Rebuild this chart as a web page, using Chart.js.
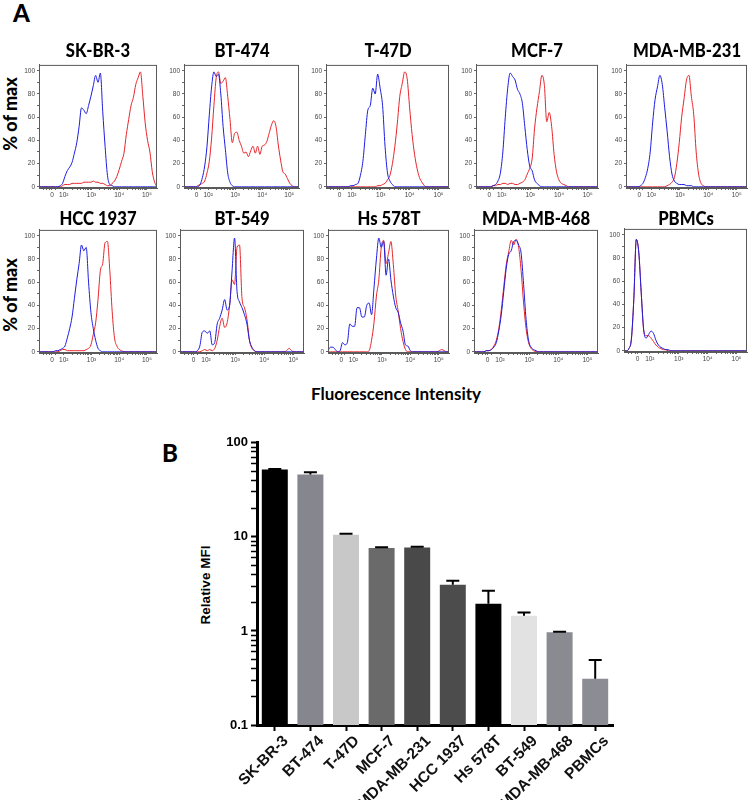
<!DOCTYPE html>
<html lang="en">
<head>
<meta charset="UTF-8">
<title>HER2 histograms and relative MFI</title>
<script src="https://cdn.jsdelivr.net/npm/chart.js@4.4.1/dist/chart.umd.min.js"></script>
<style>
  body { margin: 0; background: #fff; }
  #page { position: relative; width: 750px; height: 800px; overflow: hidden; }
  .txt { position: absolute; font-family: Lato, "Open Sans", sans-serif; font-weight: 900; color: #000; white-space: nowrap; line-height: 1; }
  .rot { transform: translate(-50%, -50%) rotate(-90deg); }
  .mid { transform: translate(-50%, -50%); }
  canvas { position: absolute; }
</style>
</head>
<body>
<div id="page">
  <div class="txt" style="left:13px;top:1px;font-size:24px;">A</div>
  <div class="txt rot" style="left:10px;top:114px;font-size:18px;">% of max</div>
  <div class="txt rot" style="left:10px;top:295px;font-size:18px;">% of max</div>
  <div class="txt mid" style="left:396px;top:393px;font-size:17px;font-weight:700;">Fluorescence Intensity</div>
  <div class="txt" style="left:162px;top:441px;font-size:24px;">B</div>
  <div class="txt rot" style="left:206px;top:585px;font-size:13.5px;font-weight:700;font-family:'Liberation Sans',Arial,sans-serif;">Relative MFI</div>
</div>

<script>
// ---- Panel A: histogram data (x = display channel 0..100, step 2) ----
const binX = [];
for (let v = 0; v <= 100; v += 2) binX.push(v);

const cellNames = ['SK-BR-3', 'BT-474', 'T-47D', 'MCF-7', 'MDA-MB-231',
                   'HCC 1937', 'BT-549', 'Hs 578T', 'MDA-MB-468', 'PBMCs'];

// blue = control, red = stained
const skbr3Blue = [0,0,0,0,0,0,0,0,0,1, 3,9,14,17,21,29,38,52,68,66,63,70,78,87,96,90,98,65,35,10,2,1, 0,0,0,0,0,0,0,0,0,0,0,0,0,0,0,0,0,0,0];
const skbr3Red  = [0,0,0,0,0,0,0,0,0,0, 1,2,2,2,3,3,3,3,3,4,4,4,4,5,4,4,3,3,2,1,1,3,5,9,15,22,29,45,58,70,77,88,94,99,78,55,40,30,13,4,0];
const bt474Blue = [0,0,0,0,0,0,0, 2,8,18,35,62,86,99,95,97,80,52,32,12,4,1, 0,0,0,0,0,0,0,0,0,0,0,0,0,0,0,0,0,0,0,0,0,0,0,0,0,0,0,0,0];
const bt474Red  = [0,0,0,0,0,0, 1,2,3,5,12,22,42,70,94,99,89,91,94,78,58,38,46,47,40,35,29,30,26,31,35,29,35,28,35,36,39,46,53,57,52,36,23,13,11,7,3,1, 0,0,0];
const t47dBlue  = [0,0,0,0,0,0,0,0,0,0, 1,1,2,3,10,22,45,66,70,85,80,97,85,70,35,12,5,2, 0,0,0,0,0,0,0,0,0,0,0,0,0,0,0,0,0,0,0,0,0,0,0];
const t47dRed   = [0,0,0,0,0,0,0,0,0,0,0,0,0,0,0,0,0,0,0,0,0, 1,1,2,3,6,10,20,35,55,78,89,99,93,68,45,28,16,8,4,1, 0,0,0,0,0,0,0,0,0,0];
const mcf7Blue  = [0,0,0,0,0,0,0, 1,2,5,12,30,60,85,98,95,92,84,80,72,52,32,18,14,6,3,1, 0,0,0,0,0,0,0,0,0,0,0,0,0,0,0,0,0,0,0,0,0,0,0,0];
const mcf7Red   = [0,0,0,0,0,0,0, 1,1,2,2,3,3,2,3,3,2,2,3,4,6,11,16,24,50,68,82,96,88,56,64,52,28,13,6,3,2,1, 0,0,0,0,0,0,0,0,0,0,0,0,0];
const mdaBlue   = [0,0,0,0,0,0, 1,3,8,16,30,55,75,86,96,88,68,48,26,11,5,3,2,2,2,1,1,1, 0,0,0,0,0,0,0,0,0,0,0,0,0,0,0,0,0,0,0,0,0,0,0];
const mdaRed    = [0,0,0,0,0,0,0,0,0,0,0,0,0,0,0,0,0, 1,2,4,8,20,38,60,76,92,96,78,62,30,11,3,1, 0,0,0,0,0,0,0,0,0,0,0,0,0,0,0,0,0,0];
const hccBlue   = [0,0,0,0,0,0,0, 1,1,2,3,5,12,20,30,46,62,76,92,87,90,60,34,20,10,3,1, 0,0,0,0,0,0,0,0,0,0,0,0,0,0,0,0,0,0,0,0,0,0,0,0];
const hccRed    = [0,0,0,0,0,0,0,0,0, 1,2,2,1,1,1,1,1,1,1,1,2,3,6,15,25,45,70,76,94,95,70,35,12,5,2,1, 0,0,0,0,0,0,0,0,0,0,0,0,0,0,0];
const bt549Blue = [0,0,0,0,0,0,0, 1,5,17,18,16,18,6,8,24,29,36,45,36,40,70,98,52,43,38,32,24,10,4,1, 0,0,0,0,0,0,0,0,0,0,0,0,0,0,0,0,0,0,0,0];
const bt549Red  = [0,0,0,0,0,0,0,0,0, 1,2,1,2,1,3,10,22,29,21,25,40,62,58,90,92,46,38,28,10,3,1, 0,0,0,0,0,0,0,0,0,0,0,0, 1,3,1, 0,0,0,0,0];
const hs578Blue = [1,4,4,2,0,1,8,6,8,24,22,22,38,38,30,30,40,42,32,55,80,98,90,95,66,80,62,48,38,34,25,18,6,5,1, 0,0,0,0,0,0,0,0,0,0,0,0,0,0,0,0];
const hs578Red  = [0,0,0,0,0,0,0,0,0,0,0,0,0,0,0,0,0, 1,10,25,48,62,90,96,76,85,95,75,48,35,20,9,2, 0,0,0,0,0,0,0,0,0,0,0,0,0, 1,2,1, 0,0];
const mda468Blue = [0,0,0,0,0, 1,1,2,4,8,18,32,52,72,84,87,95,96,92,85,58,28,10,4,2,1, 0,0,0,0,0,0,0,0,0,0,0,0,0,0,0,0,0,0,0,0,0,0,0,0,0];
const mda468Red  = [0,0,0,0,0, 1,1,2,5,10,20,36,56,75,86,96,92,97,90,70,42,20,8,3,1, 0,0,0,0,0,0,0,0,0,0,0,0,0,0,0,0,0,0,0,0,0,0,0,0,0,0];
const pbmcBlue  = [0,0,2,10,45,96,85,50,18,11,14,17,15,9,5,3,2,1,1, 0,0,0,0,0,0,0,0,0,0,0,0,0,0,0,0,0,0,0,0,0,0,0,0,0,0,0,0,0,0,0,0];
const pbmcRed   = [0,0,2,10,45,96,85,50,18,13,13,11,8,5,3,2,1,1, 0,0,0,0,0,0,0,0,0,0,0,0,0,0,0,0,0,0,0,0,0,0,0,0,0,0,0,0,0,0,0,0,0];

const blueSeries = [skbr3Blue, bt474Blue, t47dBlue, mcf7Blue, mdaBlue, hccBlue, bt549Blue, hs578Blue, mda468Blue, pbmcBlue];
const redSeries  = [skbr3Red, bt474Red, t47dRed, mcf7Red, mdaRed, hccRed, bt549Red, hs578Red, mda468Red, pbmcRed];

// axis ticks (display channel positions of the biexponential labels)
const xTickPos  = [11, 21, 44.5, 68, 91.5];
const xTickText = ['0', '10\u00b2', '10\u00b3', '10\u2074', '10\u2075'];
const yTickVals = [0, 20, 40, 60, 80, 100];

// ---- Panel B: relative MFI ----
const barLabels = ['SK-BR-3', 'BT-474', 'T-47D', 'MCF-7', 'MDA-MB-231', 'HCC 1937', 'Hs 578T', 'BT-549', 'MDA-MB-468', 'PBMCs'];
const mfi      = [52, 46, 10.5, 7.6, 7.7, 3.1, 1.95, 1.45, 0.97, 0.31];
const mfiErr   = [0.8, 2.5, 0.3, 0.15, 0.15, 0.32, 0.72, 0.12, 0.01, 0.18];
const barColors = ['#000000', '#86868e', '#c8c8c8', '#6a6a6a', '#494949', '#4c4c4c', '#000000', '#e2e2e2', '#8a8a91', '#8c8c94'];

// layout of the small plot boxes (ty = title baseline)
const boxes = [
  {x: 39, y: 62, w: 118, h: 126, ty: 57}, {x: 184, y: 62, w: 115, h: 126, ty: 57}, {x: 326, y: 62, w: 123, h: 126, ty: 57},
  {x: 476, y: 62, w: 122, h: 126, ty: 57}, {x: 626, y: 62, w: 121, h: 126, ty: 57},
  {x: 39, y: 227, w: 118, h: 126, ty: 225}, {x: 180, y: 227, w: 124, h: 126, ty: 225}, {x: 328, y: 227, w: 121, h: 126, ty: 225},
  {x: 474, y: 227, w: 124, h: 126, ty: 225}, {x: 624, y: 226, w: 123, h: 126, ty: 225}
];

const page = document.getElementById('page');

// minor ticks on the log part of the x axis
const decadeW = (xTickPos[4] - xTickPos[1]) / 3;
const xMinor = [];
for (let d = 0; d < 3; d++) {
  for (let m = 2; m <= 9; m++) xMinor.push(xTickPos[1] + decadeW * (d + Math.log10(m)));
}
[-7, -4.5, -2, 3].forEach(o => xMinor.push(xTickPos[0] + o));

const boxBorder = {
  id: 'boxBorder',
  afterDraw(chart) {
    const a = chart.chartArea, ctx = chart.ctx;
    ctx.save();
    ctx.strokeStyle = '#5a5a5a';
    ctx.lineWidth = 1;
    ctx.strokeRect(a.left + 0.5, a.top + 0.5, a.right - a.left - 1, a.bottom - a.top - 1);
    ctx.restore();
  }
};

function makeHist(i) {
  const b = boxes[i];
  const padL = 24, padT = 3, padR = 3, padB = 14;
  const c = document.createElement('canvas');
  c.width = b.w + padL + padR;
  c.height = b.h + padT + padB;
  c.style.left = (b.x - padL) + 'px';
  c.style.top = (b.y - padT) + 'px';
  page.appendChild(c);

  const fs = 18.5;
  const title = document.createElement('div');
  title.className = 'txt';
  title.textContent = cellNames[i];
  title.style.fontSize = fs + 'px';
  title.style.left = (b.x + b.w / 2) + 'px';
  title.style.top = (b.ty - 0.887 * fs) + 'px';
  title.style.transform = 'translateX(-50%) scaleX(0.9)';
  page.appendChild(title);

  const toPts = arr => binX.map((x, k) => ({x: x, y: arr[k]}));

  new Chart(c, {
    type: 'line',
    data: {
      datasets: [
        { data: toPts(blueSeries[i]), borderColor: '#1c1ce0', borderWidth: 1 },
        { data: toPts(redSeries[i]), borderColor: '#e6252b', borderWidth: 1 }
      ]
    },
    options: {
      responsive: false,
      animation: false,
      layout: { padding: { top: padT, right: padR } },
      elements: { point: { radius: 0 }, line: { cubicInterpolationMode: 'monotone' } },
      plugins: { legend: { display: false }, tooltip: { enabled: false } },
      scales: {
        x: {
          type: 'linear', min: 0, max: 100,
          afterBuildTicks: s => {
            s.ticks = xTickPos.concat(xMinor).sort((p, q) => p - q).map(v => ({value: v}));
          },
          afterFit: s => { s.height = padB; },
          ticks: {
            autoSkip: false, maxRotation: 0, padding: 1,
            font: { family: 'Liberation Sans', size: 6.5 }, color: '#444',
            callback: v => { const k = xTickPos.indexOf(v); return k >= 0 ? xTickText[k] : ''; }
          },
          grid: { drawOnChartArea: false, tickLength: 2, color: '#666' },
          border: { color: '#5a5a5a' }
        },
        y: {
          min: -1, max: 105,
          afterBuildTicks: s => {
            const t = [];
            for (let v = 0; v <= 100; v += 10) t.push({value: v});
            s.ticks = t;
          },
          afterFit: s => { s.width = padL; },
          ticks: {
            autoSkip: false, padding: 2,
            font: { family: 'Liberation Sans', size: 6.5 }, color: '#444',
            callback: v => yTickVals.includes(v) ? String(v) : ''
          },
          grid: { drawOnChartArea: false, tickLength: 2, color: '#666' },
          border: { color: '#5a5a5a' }
        }
      }
    },
    plugins: [boxBorder]
  });
}

for (let i = 0; i < boxes.length; i++) makeHist(i);

// ---- Panel B chart ----
const yLogTicks = [];
[-1, 0, 1].forEach(e => {
  for (let m = 1; m <= 9; m++) yLogTicks.push(Number((m * Math.pow(10, e)).toPrecision(2)));
});
yLogTicks.push(100);
const isDecade = v => Math.abs(Math.log10(v) - Math.round(Math.log10(v))) < 1e-9;

const errorBars = {
  id: 'errorBars',
  afterDatasetsDraw(chart) {
    const ctx = chart.ctx, ys = chart.scales.y;
    chart.getDatasetMeta(0).data.forEach((bar, i) => {
      const top = ys.getPixelForValue(mfi[i] + mfiErr[i]);
      ctx.save();
      ctx.strokeStyle = '#000';
      ctx.lineWidth = 2;
      ctx.beginPath();
      ctx.moveTo(bar.x, bar.y);
      ctx.lineTo(bar.x, top);
      ctx.moveTo(bar.x - 6.5, top);
      ctx.lineTo(bar.x + 6.5, top);
      ctx.stroke();
      ctx.restore();
    });
  }
};

const cb = document.createElement('canvas');
cb.width = 430;
cb.height = 368;
cb.style.left = '200px';
cb.style.top = '432px';
page.appendChild(cb);

new Chart(cb, {
  type: 'bar',
  data: {
    labels: barLabels,
    datasets: [{
      data: mfi,
      backgroundColor: barColors,
      borderWidth: 0,
      barPercentage: 0.73,
      categoryPercentage: 1
    }]
  },
  options: {
    responsive: false,
    animation: false,
    layout: { padding: { top: 10, right: 17 } },
    plugins: { legend: { display: false }, tooltip: { enabled: false } },
    scales: {
      x: {
        afterFit: s => { s.height = 75; },
        ticks: {
          autoSkip: false, minRotation: 45, maxRotation: 45, padding: 1, labelOffset: 11,
          font: { family: 'Liberation Sans', weight: 'bold', size: 15.5 }, color: '#111'
        },
        grid: { offset: false, drawOnChartArea: false, tickLength: 6, tickWidth: 2, tickColor: '#000' },
        border: { color: '#000', width: 3 }
      },
      y: {
        type: 'logarithmic', min: 0.1, max: 100,
        afterBuildTicks: s => { s.ticks = yLogTicks.map(v => ({value: v})); },
        afterFit: s => { s.width = 57; },
        ticks: {
          autoSkip: false, padding: 3,
          font: { family: 'Liberation Sans', weight: 'bold', size: 13 }, color: '#000',
          callback: v => isDecade(v) ? String(v) : ''
        },
        grid: {
          drawOnChartArea: false, tickLength: 6, tickColor: '#000',
          tickWidth: c => (c.tick && isDecade(c.tick.value)) ? 2 : 1.5
        },
        border: { color: '#000', width: 3 }
      }
    }
  },
  plugins: [errorBars]
});
</script>
</body>
</html>
